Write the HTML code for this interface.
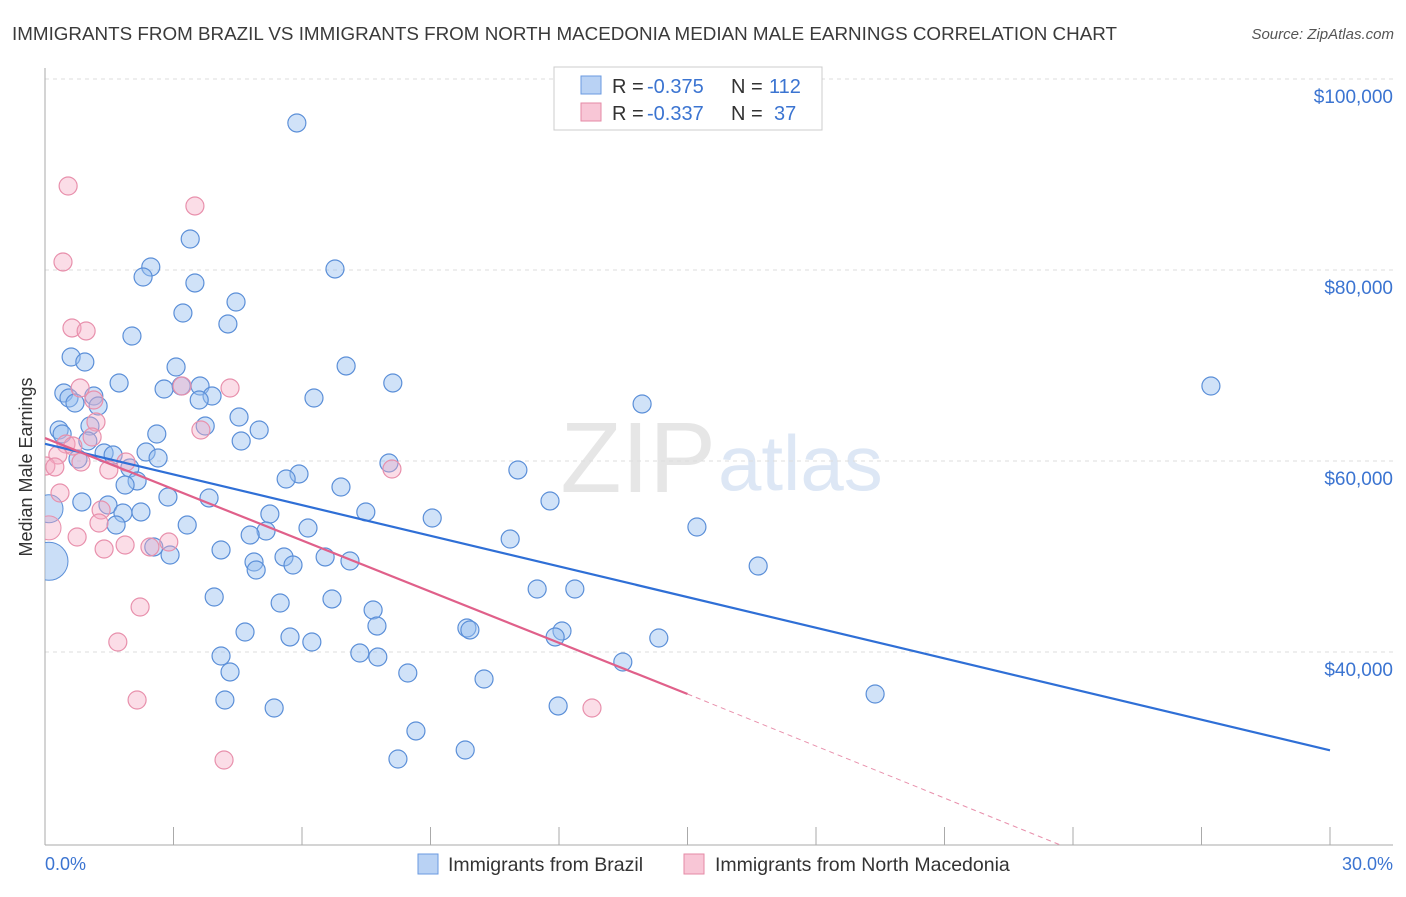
<!DOCTYPE html>
<html><head><meta charset="utf-8"><style>
body{margin:0;background:#fff;font-family:"Liberation Sans",sans-serif}
svg text{font-family:"Liberation Sans",sans-serif}
</style></head><body>
<svg id="chart" width="1406" height="892">
<defs><clipPath id="plotclip"><rect x="45" y="60" width="1360" height="785"/></clipPath></defs>
<text x="12" y="40" font-size="18.5" fill="#3a3a3a" textLength="1105" lengthAdjust="spacingAndGlyphs">IMMIGRANTS FROM BRAZIL VS IMMIGRANTS FROM NORTH MACEDONIA MEDIAN MALE EARNINGS CORRELATION CHART</text>
<text x="1394" y="39" font-size="15" fill="#555" font-style="italic" text-anchor="end">Source: ZipAtlas.com</text>
<text x="716" y="492" font-size="100" fill="#e6e6e6" text-anchor="end" font-family="Liberation Serif">ZIP</text>
<text x="718" y="490" font-size="78" fill="#dde7f5">atlas</text>
<g id="grid"></g><g id="axes"></g><g id="pts" clip-path="url(#plotclip)"></g><g id="lines"></g>
<text x="20" y="455" font-size="18" fill="#333" transform="rotate(-90 32 455)" text-anchor="middle">Median Male Earnings</text>
<text x="45" y="870" font-size="18" fill="#3b74d1">0.0%</text>
<text x="1393" y="870" font-size="18" fill="#3b74d1" text-anchor="end">30.0%</text>
<g>
<rect x="554" y="67" width="268" height="63" fill="#fff" stroke="#ccc"/>
<rect x="581" y="76" width="20" height="18" fill="#b9d2f4" stroke="#6a9ae0"/>
<rect x="581" y="103" width="20" height="18" fill="#f8c6d6" stroke="#e58aa6"/>
<text y="93" font-size="20" fill="#333"><tspan x="612">R =</tspan><tspan x="647" fill="#3b74d1">-0.375</tspan><tspan x="731">N =</tspan><tspan x="769" fill="#3b74d1">112</tspan></text>
<text y="120" font-size="20" fill="#333"><tspan x="612">R =</tspan><tspan x="647" fill="#3b74d1">-0.337</tspan><tspan x="731">N =</tspan><tspan x="774" fill="#3b74d1">37</tspan></text>
</g>
<g>
<rect x="418" y="854" width="20" height="20" fill="#b9d2f4" stroke="#6a9ae0"/>
<text x="448" y="871" font-size="19.5" fill="#333">Immigrants from Brazil</text>
<rect x="684" y="854" width="20" height="20" fill="#f8c6d6" stroke="#e58aa6"/>
<text x="715" y="871" font-size="19.5" fill="#333">Immigrants from North Macedonia</text>
</g>
</svg>
<script>
const yTicks=[100000,80000,60000,40000];
const yTickLabels=["$100,000","$80,000","$60,000","$40,000"];
const bluePx=[[297,123],[190,239],[335,269],[151,267],[143,277],[195,283],[236,302],[183,313],[228,324],[132,336],[71,357],[85,362],[346,366],[176,367],[119,383],[393,383],[164,389],[200,386],[181,386],[1211,386],[64,393],[69,398],[94,396],[75,403],[98,406],[212,396],[199,400],[314,398],[642,404],[239,417],[205,426],[59,430],[62,434],[90,426],[157,434],[259,430],[241,441],[88,441],[146,452],[104,453],[113,455],[158,458],[78,459],[389,463],[130,468],[518,470],[299,474],[286,479],[137,481],[125,485],[341,487],[209,498],[168,497],[550,501],[82,502],[108,505],[366,512],[432,518],[141,512],[123,513],[270,514],[187,525],[116,525],[697,527],[308,528],[266,531],[250,535],[510,539],[154,547],[221,550],[170,555],[284,557],[325,557],[350,561],[254,562],[293,565],[256,570],[758,566],[537,589],[575,589],[214,597],[332,599],[280,603],[373,610],[377,626],[245,632],[290,637],[312,642],[467,628],[470,630],[562,631],[555,637],[659,638],[360,653],[378,657],[221,656],[623,662],[230,672],[408,673],[484,679],[875,694],[225,700],[558,706],[274,708],[416,731],[465,750],[398,759]];
const pinkPx=[[68,186],[195,206],[63,262],[72,328],[86,331],[80,388],[182,386],[230,388],[94,400],[96,422],[201,430],[92,437],[66,444],[73,446],[58,455],[46,466],[55,467],[126,462],[81,462],[109,470],[392,469],[60,493],[101,510],[99,523],[77,537],[104,549],[125,545],[150,547],[169,542],[140,607],[118,642],[137,700],[224,760],[592,708]];
const toPct=p=>+((p-45)/1285*30).toFixed(2), toUsd=p=>Math.round(100000-(p-79)*20000/191);
const blueX=bluePx.map(p=>toPct(p[0])), blueY=bluePx.map(p=>toUsd(p[1]));
const pinkX=pinkPx.map(p=>toPct(p[0])), pinkY=pinkPx.map(p=>toUsd(p[1]));
const bigX=[0,0,0], bigY=[49500,55000,53000], bigR=[19,14,12], bigSeries=["b","b","p"];
const blueTrend=[[0,61800],[30,29700]], pinkTrend=[[0,62400],[15,35600],[23.7,19800]];
const X=v=>45+v/30*1285, Y=v=>79+(100000-v)*191/20000;
const NS="http://www.w3.org/2000/svg";
function mk(t,a,parent){const e=document.createElementNS(NS,t);for(const k in a)e.setAttribute(k,a[k]);document.getElementById(parent).appendChild(e);return e;}
yTicks.forEach((v,i)=>{
 const l=mk('line',{x1:45,x2:1393,y1:Y(v),y2:Y(v),stroke:'#ddd','stroke-dasharray':'4,4'},'grid');
 
 
 const t=mk('text',{x:1393,y:Y(v)+24,'font-size':19,fill:'#3b74d1','text-anchor':'end'},'grid');t.textContent=yTickLabels[i];
 
 
});
mk('line',{x1:45,x2:45,y1:68,y2:845,stroke:'#aaa'},'axes');
mk('line',{x1:45,x2:1393,y1:845,y2:845,stroke:'#aaa'},'axes');
for(let i=0;i<=10;i++){const xt=mk('line',{x1:X(i*3),x2:X(i*3),y1:827,y2:845,stroke:'#aaa'},'axes');
 
 }
bigX.forEach((x,i)=>{const b=bigSeries[i]=='b';const c=mk('circle',{cx:X(x)+4,cy:Y(bigY[i]),r:bigR[i],fill:b?'rgba(150,190,240,0.5)':'rgba(245,170,195,0.4)',stroke:b?'#5b8fd8':'#e890ac'},'pts');
 
 });
blueX.forEach((x,i)=>{const c=mk('circle',{cx:X(x),cy:Y(blueY[i]),r:9,fill:'rgba(150,190,240,0.45)',stroke:'#5b8fd8','stroke-width':1.2},'pts');
 
 });
pinkX.forEach((x,i)=>{const c=mk('circle',{cx:X(x),cy:Y(pinkY[i]),r:9,fill:'rgba(245,170,195,0.4)',stroke:'#e890ac','stroke-width':1.2},'pts');
 
 });
const bl=mk('line',{x1:X(blueTrend[0][0]),y1:Y(blueTrend[0][1]),x2:X(blueTrend[1][0]),y2:Y(blueTrend[1][1]),stroke:'#2f6fd6','stroke-width':2.2},'lines');


const pl=mk('line',{x1:X(pinkTrend[0][0]),y1:Y(pinkTrend[0][1]),x2:X(pinkTrend[1][0]),y2:Y(pinkTrend[1][1]),stroke:'#e0608a','stroke-width':2.2},'lines');


const pd=mk('line',{x1:X(pinkTrend[1][0]),y1:Y(pinkTrend[1][1]),x2:X(pinkTrend[2][0]),y2:Y(pinkTrend[2][1]),stroke:'#e890ac','stroke-width':1,'stroke-dasharray':'5,4'},'lines');


</script>
</body></html>
